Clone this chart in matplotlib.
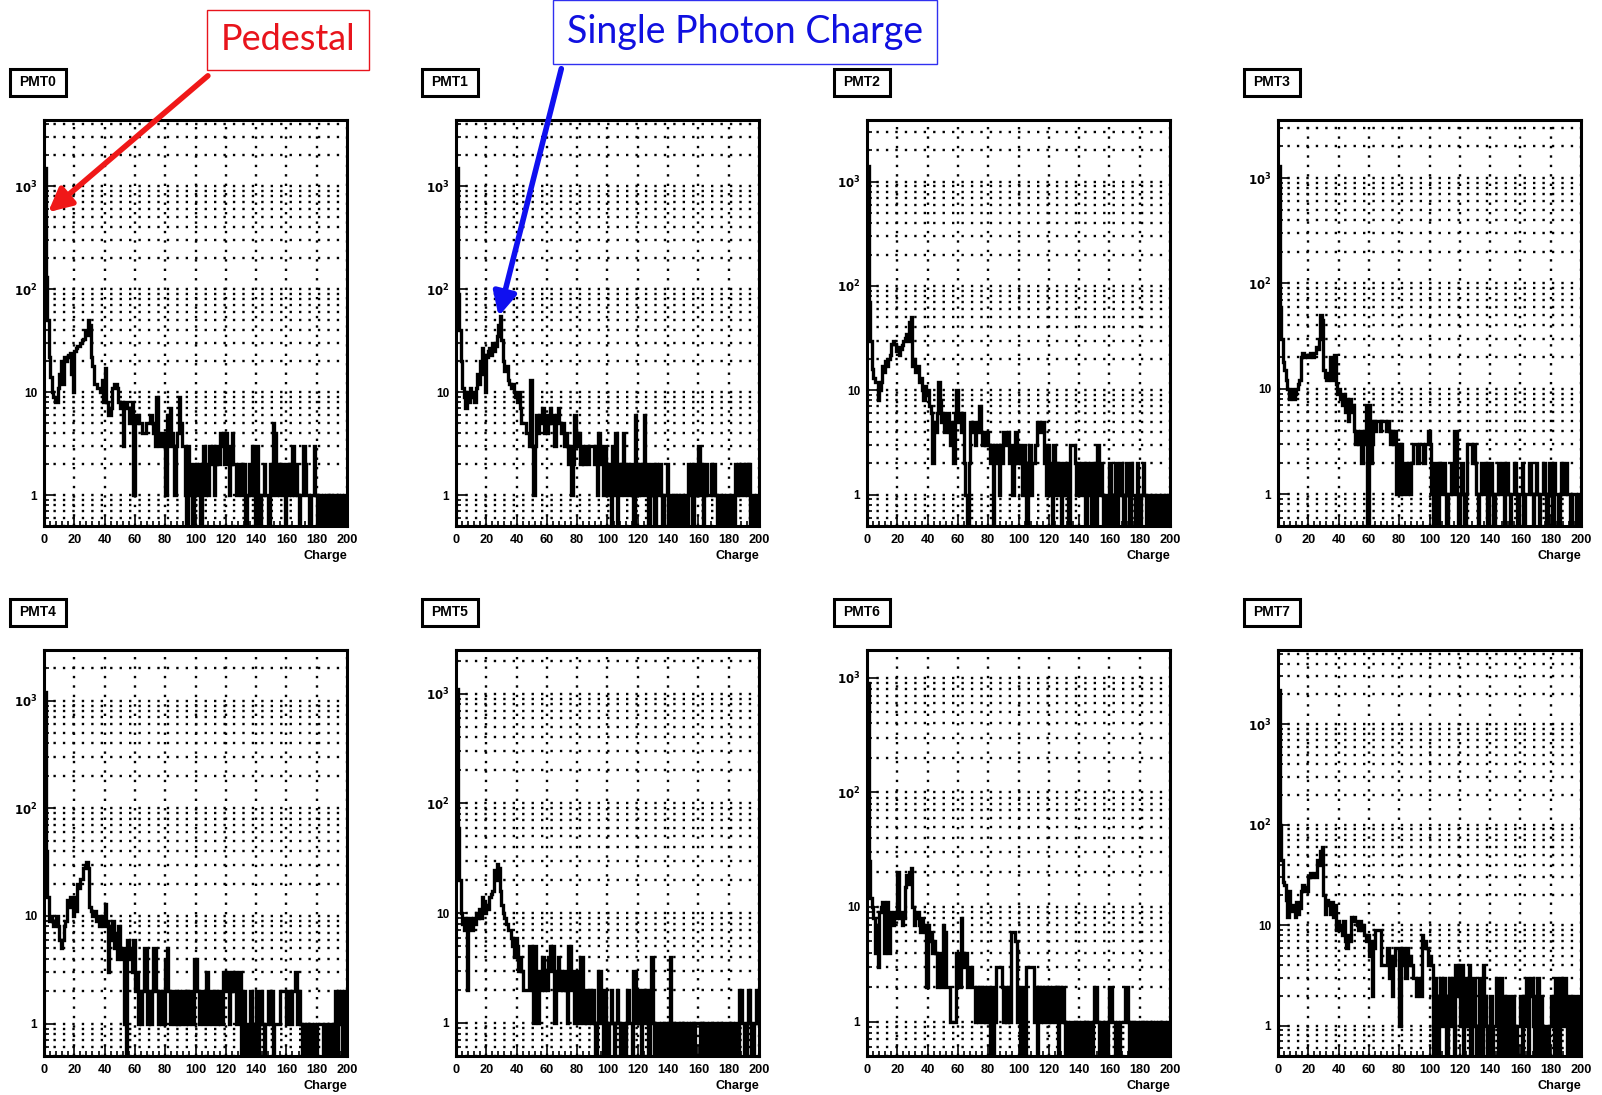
import numpy as np
import matplotlib
matplotlib.use("Agg")
import matplotlib.pyplot as plt
from matplotlib.patches import FancyArrowPatch, Rectangle
from matplotlib.ticker import FixedLocator, LogLocator, NullFormatter, MultipleLocator

W, H = 1602, 1095

names = ["PMT0", "PMT1", "PMT2", "PMT3", "PMT4", "PMT5", "PMT6", "PMT7"]

# counts per 1-unit charge bin, 0..200
pmt0 = [1500, 130, 50, 22, 14, 10, 9, 8, 8, 11,
        15, 20, 12, 22, 20, 22, 23, 24, 15, 10,
        25, 27, 28, 28, 30, 32, 33, 40, 36, 50,
        45, 22, 18, 12, 12, 11, 11, 10, 13, 8,
        17, 8, 6, 6, 7, 11, 12, 12, 11, 8,
        7, 8, 3, 8, 8, 7, 5, 7, 8, 1,
        6, 5, 6, 5, 5, 4, 4, 5, 5, 5,
        6, 5, 4, 3, 9, 4, 3, 3, 4, 3,
        1, 6, 3, 7, 4, 3, 1, 3, 4, 9,
        5, 3, 3, 1, 0, 3, 2, 1, 0, 2,
        2, 1, 2, 0, 2, 3, 1, 2, 1, 3,
        2, 3, 1, 2, 3, 2, 4, 3, 4, 2,
        4, 3, 1, 2, 4, 2, 2, 1, 2, 2,
        1, 2, 2, 0, 1, 2, 1, 3, 1, 0,
        3, 1, 0, 1, 1, 2, 1, 1, 0, 2,
        1, 5, 4, 1, 2, 1, 2, 2, 1, 0,
        2, 1, 2, 1, 3, 1, 2, 1, 0, 1,
        1, 3, 2, 1, 1, 0, 1, 1, 3, 1,
        0, 1, 1, 0, 1, 0, 1, 1, 0, 1,
        0, 1, 1, 0, 1, 0, 1, 0, 1, 1]

pmt1 = [1500, 90, 40, 20, 11, 9, 7, 10, 8, 11,
        9, 10, 8, 11, 15, 12, 20, 27, 15, 10,
        22, 25, 27, 23, 30, 25, 28, 35, 45, 55,
        32, 20, 16, 18, 13, 12, 11, 12, 10, 9,
        8, 10, 7, 5, 5, 5, 4, 4, 3, 13,
        3, 1, 3, 6, 4, 6, 5, 7, 4, 6,
        4, 5, 7, 5, 6, 3, 6, 7, 5, 4,
        5, 3, 4, 3, 2, 3, 1, 2, 6, 4,
        3, 4, 2, 3, 2, 3, 3, 2, 3, 3,
        3, 2, 3, 1, 4, 3, 2, 1, 3, 2,
        1, 2, 0, 3, 1, 4, 0, 2, 1, 2,
        4, 1, 2, 2, 1, 2, 1, 0, 6, 2,
        1, 2, 1, 2, 6, 1, 2, 0, 1, 2,
        1, 0, 2, 1, 2, 1, 0, 1, 1, 2,
        0, 1, 0, 1, 1, 0, 1, 0, 1, 1,
        0, 1, 0, 2, 1, 2, 0, 1, 2, 1,
        3, 1, 2, 0, 1, 2, 1, 1, 2, 1,
        2, 1, 0, 1, 1, 0, 1, 0, 1, 1,
        0, 1, 1, 0, 2, 1, 2, 1, 2, 2,
        1, 2, 1, 2, 0, 1, 1, 0, 1, 1]

pmt2 = [1400, 70, 30, 16, 13, 12, 12, 8, 10, 12,
        17, 15, 19, 17, 20, 22, 28, 30, 28, 24,
        26, 22, 25, 27, 30, 32, 35, 30, 45, 50,
        17, 20, 15, 17, 12, 13, 10, 8, 11, 9,
        10, 7, 6, 2, 5, 4, 6, 12, 8, 5,
        6, 4, 5, 6, 4, 3, 5, 2, 6, 10,
        5, 6, 4, 6, 2, 1, 0, 2, 5, 4,
        5, 3, 4, 5, 7, 4, 3, 4, 3, 4,
        3, 2, 3, 0, 3, 2, 3, 1, 3, 2,
        4, 4, 3, 4, 2, 3, 1, 2, 4, 2,
        3, 2, 1, 3, 2, 0, 2, 3, 1, 2,
        2, 3, 5, 5, 4, 5, 5, 2, 1, 3,
        1, 2, 0, 3, 1, 2, 1, 2, 0, 1,
        2, 1, 2, 0, 3, 3, 3, 2, 1, 2,
        1, 2, 2, 1, 0, 2, 1, 2, 0, 1,
        2, 0, 3, 1, 2, 1, 0, 1, 1, 0,
        2, 1, 0, 1, 2, 0, 1, 2, 1, 0,
        1, 2, 1, 0, 2, 1, 1, 0, 2, 1,
        0, 1, 2, 1, 0, 1, 1, 0, 1, 1,
        0, 1, 1, 0, 1, 1, 0, 1, 0, 1]

pmt3 = [1300, 60, 30, 18, 15, 12, 10, 8, 9, 10,
        8, 9, 10, 11, 12, 20, 22, 20, 21, 20,
        20, 22, 21, 20, 22, 25, 24, 30, 50, 45,
        15, 13, 12, 14, 20, 12, 15, 21, 11, 9,
        10, 8, 7, 9, 6, 8, 5, 8, 6, 7,
        4, 3, 4, 3, 4, 2, 3, 4, 7, 0,
        7, 2, 3, 5, 4, 5, 5, 4, 5, 5,
        5, 4, 5, 4, 3, 4, 3, 4, 1, 3,
        1, 3, 1, 2, 2, 1, 2, 1, 2, 3,
        3, 3, 2, 3, 3, 3, 2, 3, 3, 4,
        3, 1, 0, 2, 1, 0, 2, 1, 2, 2,
        1, 0, 1, 1, 2, 1, 4, 4, 1, 0,
        1, 2, 1, 0, 1, 3, 3, 3, 2, 3,
        2, 1, 0, 1, 2, 1, 1, 2, 0, 1,
        2, 1, 0, 1, 1, 2, 1, 1, 2, 0,
        1, 2, 1, 0, 1, 1, 2, 1, 0, 1,
        1, 2, 0, 1, 1, 1, 2, 1, 0, 1,
        2, 1, 0, 1, 1, 2, 1, 0, 1, 2,
        1, 0, 2, 1, 1, 0, 1, 2, 1, 1,
        2, 1, 1, 0, 1, 1, 1, 0, 1, 0]

pmt4 = [1200, 40, 15, 9, 10, 9, 8, 9, 10, 8,
        6, 5, 6, 8, 9, 14, 12, 15, 13, 10,
        15, 11, 20, 18, 22, 22, 28, 30, 32, 28,
        12, 11, 10, 11, 9, 10, 8, 9, 10, 8,
        13, 9, 3, 8, 6, 9, 5, 7, 4, 8,
        5, 4, 5, 1, 0, 6, 4, 5, 3, 6,
        2, 3, 1, 2, 1, 2, 5, 5, 1, 2,
        1, 2, 5, 5, 2, 1, 2, 1, 2, 1,
        4, 5, 2, 1, 2, 2, 1, 2, 1, 2,
        1, 2, 2, 1, 2, 1, 2, 2, 1, 4,
        4, 2, 1, 2, 2, 1, 2, 3, 1, 2,
        2, 1, 2, 2, 1, 2, 1, 1, 3, 3,
        2, 3, 1, 2, 3, 2, 3, 1, 2, 3,
        0, 1, 2, 0, 1, 0, 2, 1, 0, 1,
        2, 0, 1, 2, 1, 0, 1, 1, 2, 1,
        2, 0, 1, 1, 1, 1, 2, 2, 2, 2,
        1, 2, 2, 1, 2, 2, 3, 1, 2, 1,
        0, 1, 0, 1, 0, 1, 1, 0, 1, 0,
        1, 1, 1, 1, 0, 1, 1, 0, 1, 1,
        0, 1, 2, 0, 2, 1, 2, 0, 2, 2]

pmt5 = [1100, 60, 20, 10, 8, 7, 9, 2, 8, 9,
        7, 9, 8, 10, 9, 11, 9, 14, 13, 10,
        12, 11, 14, 15, 16, 25, 20, 28, 26, 16,
        12, 10, 9, 8, 7, 7, 6, 5, 4, 6,
        5, 3, 4, 3, 2, 2, 2, 2, 5, 5,
        2, 1, 5, 2, 1, 3, 2, 4, 2, 3,
        2, 4, 5, 3, 5, 1, 3, 4, 2, 3,
        2, 3, 2, 1, 5, 5, 2, 3, 1, 2,
        3, 1, 4, 4, 1, 2, 1, 1, 2, 1,
        2, 1, 0, 1, 3, 3, 1, 0, 2, 1,
        0, 1, 2, 1, 0, 1, 2, 1, 0, 1,
        1, 0, 1, 2, 1, 1, 0, 3, 3, 1,
        2, 1, 0, 2, 1, 2, 1, 0, 2, 4,
        1, 0, 1, 1, 0, 1, 0, 1, 1, 0,
        1, 4, 0, 1, 0, 1, 1, 0, 1, 0,
        1, 1, 0, 1, 0, 1, 1, 0, 1, 1,
        1, 0, 1, 0, 1, 1, 0, 1, 1, 0,
        1, 1, 0, 1, 1, 0, 1, 0, 0, 1,
        0, 1, 1, 0, 1, 1, 0, 2, 2, 1,
        0, 0, 1, 2, 1, 0, 0, 1, 2, 1]

pmt6 = [900, 25, 12, 10, 8, 4, 7, 3, 9, 10,
        11, 4, 10, 11, 4, 9, 8, 7, 9, 8,
        20, 8, 9, 7, 8, 15, 19, 16, 20, 22,
        10, 7, 8, 9, 7, 6, 8, 7, 6, 2,
        7, 5, 6, 4, 5, 4, 2, 4, 3, 2,
        7, 6, 2, 2, 2, 1, 1, 1, 1, 4,
        3, 2, 8, 4, 3, 4, 2, 3, 3, 2,
        2, 1, 2, 1, 2, 2, 1, 2, 1, 2,
        1, 0, 2, 0, 1, 3, 3, 3, 3, 2,
        1, 2, 1, 2, 1, 6, 6, 6, 5, 1,
        2, 0, 1, 2, 0, 3, 3, 3, 3, 3,
        1, 2, 0, 2, 1, 2, 1, 2, 2, 1,
        2, 1, 2, 2, 1, 2, 0, 2, 1, 2,
        1, 0, 1, 0, 1, 1, 0, 1, 0, 1,
        0, 1, 1, 0, 1, 0, 1, 1, 0, 1,
        2, 2, 1, 0, 1, 1, 0, 1, 0, 1,
        2, 2, 1, 1, 0, 1, 0, 1, 1, 1,
        2, 2, 1, 0, 1, 1, 0, 1, 1, 0,
        1, 1, 0, 1, 0, 1, 1, 0, 1, 0,
        1, 0, 1, 1, 0, 1, 1, 0, 1, 1]

pmt7 = [2200, 100, 45, 27, 25, 18, 12, 22, 15, 14,
        16, 12, 17, 13, 15, 22, 25, 22, 24, 22,
        30, 33, 30, 32, 33, 30, 45, 40, 55, 60,
        20, 13, 18, 16, 13, 17, 12, 16, 9, 11,
        9, 10, 8, 11, 7, 6, 8, 7, 12, 11,
        12, 11, 10, 9, 11, 9, 10, 8, 7, 8,
        5, 7, 2, 6, 9, 9, 9, 9, 4, 4,
        4, 4, 6, 3, 5, 2, 4, 6, 6, 6,
        1, 4, 6, 5, 3, 6, 4, 5, 4, 3,
        3, 2, 3, 3, 2, 8, 6, 7, 6, 4,
        5, 4, 0, 3, 2, 0, 2, 3, 1, 3,
        2, 0, 2, 3, 1, 3, 0, 4, 4, 2,
        1, 4, 0, 1, 3, 1, 4, 0, 2, 3,
        1, 0, 1, 3, 0, 4, 2, 1, 0, 1,
        2, 0, 1, 1, 3, 0, 1, 3, 0, 2,
        1, 0, 2, 1, 0, 2, 1, 0, 1, 1,
        2, 0, 2, 1, 3, 0, 2, 3, 1, 0,
        2, 3, 0, 2, 1, 0, 1, 1, 0, 1,
        2, 1, 0, 3, 2, 0, 3, 2, 1, 3,
        2, 0, 1, 2, 0, 1, 2, 0, 1, 2]

counts = [pmt0, pmt1, pmt2, pmt3, pmt4, pmt5, pmt6, pmt7]
y_max = [4400, 4400, 3900, 3550, 2950, 2500, 1750, 5500]
y_min = 0.5
x_ticks = list(range(0, 201, 20))

# frame positions in pixels (left, top, right, bottom)
col_l = [44, 456, 867, 1278]
col_r = [347, 759, 1170, 1581]
row_t = [120, 650]
row_b = [526, 1056]

fig = plt.figure(figsize=(W / 100, H / 100), dpi=100)
fig.patch.set_facecolor("white")

x_font = dict(family="Liberation Sans", weight="bold", size=9.2)
y_font = dict(family="Liberation Sans", weight="bold", size=8.5)
dot = (0, (1.0, 3.0))

for i, vals in enumerate(counts):
    r, c = divmod(i, 4)
    l, t, rr, b = col_l[c], row_t[r], col_r[c], row_b[r]
    ax = fig.add_axes([l / W, 1 - b / H, (rr - l) / W, (b - t) / H])
    vals = np.array(vals, dtype=float)
    edges = np.arange(len(vals) + 1)
    shown = np.where(vals > 0, vals, 1e-3)
    ax.stairs(shown, edges, color="black", lw=2.4, baseline=None)
    ax.set_yscale("log")
    ax.set_xlim(0, 200)
    ax.set_ylim(y_min, y_max[i])

    ax.xaxis.set_major_locator(FixedLocator(x_ticks))
    ax.xaxis.set_minor_locator(MultipleLocator(4))
    ax.set_xticklabels([str(v) for v in x_ticks], fontdict=x_font)
    ax.yaxis.set_major_locator(FixedLocator([1, 10, 100, 1000]))
    ax.yaxis.set_minor_locator(LogLocator(base=10, subs=np.arange(2, 10)))
    ax.yaxis.set_minor_formatter(NullFormatter())
    ax.set_yticklabels(["1", "10", r"$\mathbf{10^{2}}$", r"$\mathbf{10^{3}}$"],
                       fontdict=y_font)
    ax.tick_params(which="both", direction="in", top=False, right=False, width=1.2)
    ax.tick_params(axis="x", pad=6)
    ax.tick_params(axis="y", pad=5)
    ax.tick_params(which="major", length=7)
    ax.tick_params(which="minor", length=3.5)

    ax.grid(True, which="major", axis="x", color="black", lw=1.7, ls=dot)
    ax.grid(True, which="both", axis="y", color="black", lw=1.7, ls=dot)
    ax.set_axisbelow(True)
    for s in ax.spines.values():
        s.set_linewidth(2.2)

    ax.set_xlabel("Charge", loc="right", labelpad=3, **x_font)

    # pad title box
    bx = [10, 422, 834, 1244][c]
    by = [69, 599][r]
    fig.add_artist(Rectangle((bx / W, 1 - (by + 27) / H), 56 / W, 27 / H,
                             transform=fig.transFigure, fc="white", ec="black", lw=2.2))
    fig.text((bx + 28) / W, 1 - (by + 13.5) / H, names[i], ha="center", va="center",
             family="Liberation Sans", weight="bold", size=10)

# annotations
fig.text(288 / W, 1 - 40 / H, "Pedestal", color="#e8141c", size=26,
         family="Lato", ha="center", va="center",
         bbox=dict(boxstyle="square,pad=0.38", fc="white", ec="#e8141c", lw=1.0))
fig.text(745 / W, 1 - 32 / H, "Single Photon Charge", color="#1010e0", size=27,
         family="Lato", ha="center", va="center",
         bbox=dict(boxstyle="square,pad=0.38", fc="white", ec="#3030f0", lw=1.0))

arrow_kw = dict(arrowstyle="-|>,head_length=1.0,head_width=0.5", lw=4)
fig.add_artist(FancyArrowPatch(
    (210 / W, 1 - 74 / H), (46 / W, 1 - 214 / H), transform=fig.transFigure,
    color="#f01818", mutation_scale=14, **arrow_kw))
fig.add_artist(FancyArrowPatch(
    (562 / W, 1 - 66 / H), (498 / W, 1 - 319 / H), transform=fig.transFigure,
    color="#1010f0", mutation_scale=14, **arrow_kw))

fig.savefig("out.png", dpi=100)
